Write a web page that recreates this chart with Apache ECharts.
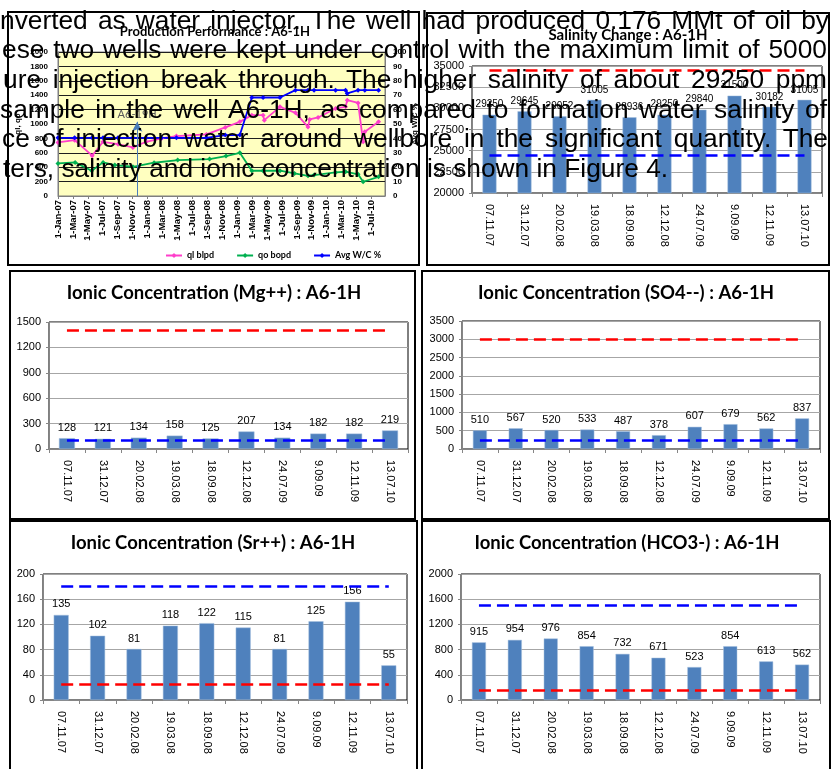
<!DOCTYPE html>
<html>
<head>
<meta charset="utf-8">
<script src="https://cdn.jsdelivr.net/npm/echarts@6/dist/echarts.min.js"></script>
<style>
html, body { margin: 0; padding: 0; background: #fff; }
#wrap { position: relative; width: 836px; height: 769px; overflow: hidden; }
#chart { position: absolute; left: 0; top: 0; width: 836px; height: 769px; }
.txt { position: absolute; font-family: 'Liberation Sans', Arial, sans-serif; font-size: 26.3px; line-height: 26px; color: #000; white-space: nowrap; transform-origin: 0 0; }
</style>
</head>
<body>
<div id="wrap">
  <div id="chart"></div>
  <div id="overlay"></div>
</div>
<script>
// ---- production data ----
const qlDates = ['2007-01-01','2007-03-08','2007-05-19','2007-07-02','2007-09-02','2007-11-02','2007-12-26','2008-02-26','2008-04-27','2008-08-28','2008-11-13','2009-01-12','2009-02-28','2009-04-15','2009-04-20','2009-06-23','2009-08-26','2009-10-16','2009-10-23','2009-11-26','2010-02-06','2010-03-17','2010-03-24','2010-05-07','2010-05-28','2010-06-04','2010-07-30'];
const qlValues = [744,776,560,753,720,675,753,800,832,855,952,1030,1123,1123,1053,1238,1155,960,1063,1091,1216,1238,1331,1293,753,891,1030];
const qoDates = ['2007-01-01','2007-03-10','2007-05-17','2007-07-02','2007-08-20','2007-11-02','2008-01-28','2008-05-02','2008-09-10','2008-11-16','2009-01-12','2009-02-28','2009-04-15','2009-06-23','2009-08-22','2009-10-16','2009-11-10','2010-02-06','2010-03-17','2010-05-07','2010-05-28','2010-07-30'];
const qoValues = [453,467,351,467,430,406,462,499,513,554,600,351,351,351,314,281,291,328,337,301,198,267];
const wcDates = ['2007-01-01','2007-03-08','2007-05-19','2007-07-02','2007-09-02','2007-11-02','2007-12-26','2008-02-26','2008-04-27','2008-08-28','2008-11-13','2009-01-12','2009-02-28','2009-04-15','2009-06-23','2009-08-26','2009-10-16','2009-11-10','2010-02-06','2010-03-17','2010-03-24','2010-05-07','2010-06-04','2010-07-30'];
const wcValues = [40.4,40.4,40.4,40.4,40.4,40.4,40.4,40.4,40.4,40.4,42.3,42.3,68.4,68.4,68.4,73.5,73.5,73.5,73.5,73.5,71.2,73.5,73.5,73.5];
const injectorDate = '2007-11-19';
const injectorTop = 1030;

// ---- sample data ----
const sampleDates = ['07.11.07','31.12.07','20.02.08','19.03.08','18.09.08','12.12.08','24.07.09','9.09.09','12.11.09','13.07.10'];
const salinity = [29250,29645,29052,31005,28936,29250,29840,31500,30182,31005];
const mgValues = [128,121,134,158,125,207,134,182,182,219];
const so4Values = [510,567,520,533,487,378,607,679,562,837];
const srValues = [135,102,81,118,122,115,81,125,156,55];
const hco3Values = [915,954,976,854,732,671,523,854,613,562];
// [red limit, blue limit]
const salinityLimits = [34500, 24500];
const mgLimits = [1400, 100];
const so4Limits = [3000, 250];
const srLimits = [25, 180];
const hco3Limits = [160, 1500];

const MONTHS = ['Jan','Feb','Mar','Apr','May','Jun','Jul','Aug','Sep','Oct','Nov','Dec'];
const FONT = "'Liberation Sans', Arial, sans-serif";
const TFONT = "Lato, 'Liberation Sans', sans-serif";
const BAR = '#4F81BD';
const plain = v => String(v);

function monthPos(s) {
  const [y, m, d] = s.split('-').map(Number);
  const days = new Date(y, m, 0).getDate();
  return (y - 2007) * 12 + (m - 1) + (d - 1) / days;
}
function pairs(dates, vals) {
  return dates.map((d, i) => [monthPos(d), vals[i]]);
}

const option = {
  animation: false,
  backgroundColor: '#fff',
  title: [],
  grid: [],
  xAxis: [],
  yAxis: [],
  series: [],
  legend: {
    data: ['ql blpd', 'qo bopd', 'Avg W/C %'],
    left: 160, top: 246,
    itemWidth: 16, itemHeight: 6, itemGap: 22,
    textStyle: { fontSize: 9, fontWeight: 'bold', fontFamily: TFONT, color: '#000' }
  },
  graphic: []
};

function addTitle(text, cx, cy, size) {
  option.title.push({
    text, left: cx, top: cy - size / 2, textAlign: 'center', padding: 0,
    textStyle: { fontFamily: TFONT, fontWeight: 'bold', fontSize: size, color: '#000' }
  });
}

// ---- production performance ----
option.grid.push({ left: 58, top: 52, width: 327, height: 144, show: true,
  backgroundColor: '#FFFFC0', borderColor: '#7F7F7F', borderWidth: 1, outerBoundsMode: 'none' });
option.xAxis.push({
  type: 'value', gridIndex: 0, min: 0, max: 43.8, interval: 2,
  axisLine: { show: true, onZero: false, lineStyle: { color: '#7F7F7F' } },
  axisTick: { show: true, length: 3, lineStyle: { color: '#7F7F7F' } },
  splitLine: { show: false },
  axisLabel: {
    rotate: 90, margin: 4, fontSize: 9.5, fontWeight: 'bold', color: '#000', fontFamily: FONT,
    showMaxLabel: false,
    formatter: v => '1-' + MONTHS[Math.round(v) % 12] + '-' + String(7 + Math.floor(Math.round(v) / 12)).padStart(2, '0')
  }
});
option.yAxis.push({
  type: 'value', gridIndex: 0, min: 0, max: 2000, interval: 200,
  name: 'ql, qo', nameLocation: 'middle', nameGap: 36,
  nameTextStyle: { fontSize: 8, fontWeight: 'bold', color: '#000', fontFamily: FONT },
  axisLine: { show: true, lineStyle: { color: '#7F7F7F' } },
  axisTick: { show: false },
  splitLine: { lineStyle: { color: '#1E1E1E', width: 1 } },
  axisLabel: { fontSize: 8, fontWeight: 'bold', color: '#000', margin: 10, fontFamily: FONT, formatter: plain }
});
option.yAxis.push({
  type: 'value', gridIndex: 0, position: 'right', min: 0, max: 100, interval: 10,
  name: 'Avg W/C %', nameLocation: 'middle', nameGap: 26, nameRotate: 90,
  nameTextStyle: { fontSize: 8, fontWeight: 'bold', color: '#000', fontFamily: FONT },
  axisLine: { show: true, lineStyle: { color: '#7F7F7F' } },
  axisTick: { show: false },
  splitLine: { show: false },
  axisLabel: { fontSize: 8, fontWeight: 'bold', color: '#000', margin: 8, fontFamily: FONT, formatter: plain }
});
const lineStyleOf = c => ({
  type: 'line', xAxisIndex: 0, symbol: 'diamond', symbolSize: 5,
  itemStyle: { color: c }, lineStyle: { color: c, width: 1.8 }
});
option.series.push(Object.assign(lineStyleOf('#FF3ECB'), {
  name: 'ql blpd', yAxisIndex: 0, data: pairs(qlDates, qlValues),
  markLine: {
    silent: true, symbol: ['none', 'arrow'], symbolSize: [8, 10],
    lineStyle: { color: '#4A7EBB', width: 1, type: 'solid' },
    label: { show: true, position: 'end', formatter: 'A6-19H', color: '#595959', fontSize: 11, fontFamily: TFONT, distance: 2 },
    data: [[{ coord: [monthPos(injectorDate), 0] }, { coord: [monthPos(injectorDate), injectorTop] }]]
  }
}));
option.series.push(Object.assign(lineStyleOf('#00B050'), {
  name: 'qo bopd', yAxisIndex: 0, data: pairs(qoDates, qoValues)
}));
option.series.push(Object.assign(lineStyleOf('#0000FF'), {
  name: 'Avg W/C %', yAxisIndex: 1, data: pairs(wcDates, wcValues)
}));
addTitle('Production Performance : A6-1H', 215, 32, 13);

// ---- bar panels ----
function barPanel(box, values, yMin, yMax, yStep, limits, title, tcx, tcy, tsize, labelSize, barW) {
  const gi = option.grid.length;
  option.grid.push({ left: box[0], top: box[1], width: box[2], height: box[3], show: true,
    backgroundColor: '#fff', borderColor: '#000', borderWidth: 1, outerBoundsMode: 'none' });
  option.xAxis.push({
    type: 'category', gridIndex: gi, data: sampleDates,
    axisLine: { show: true, lineStyle: { color: '#868686' } },
    axisTick: { show: true, length: 4, lineStyle: { color: '#868686' } },
    axisLabel: { rotate: -90, margin: 11, fontSize: 11, color: '#000', fontFamily: FONT }
  });
  const yi = option.yAxis.length;
  option.yAxis.push({
    type: 'value', gridIndex: gi, min: yMin, max: yMax, interval: yStep,
    axisLine: { show: true, lineStyle: { color: '#868686' } },
    axisTick: { show: true, length: 3, lineStyle: { color: '#868686' } },
    splitLine: { lineStyle: { color: '#A6A6A6', width: 1 } },
    axisLabel: { fontSize: 11, color: '#000', margin: 8, fontFamily: FONT, formatter: plain }
  });
  const first = sampleDates[0], last = sampleDates[sampleDates.length - 1];
  option.series.push({
    type: 'bar', xAxisIndex: option.xAxis.length - 1, yAxisIndex: yi,
    data: values, barWidth: barW,
    itemStyle: { color: BAR, borderColor: '#A7C0DE', borderWidth: 0.5 },
    label: { show: true, position: 'top', distance: 5, fontSize: labelSize, color: '#000', fontFamily: FONT },
    markLine: {
      silent: true, symbol: ['none', 'none'], label: { show: false },
      data: [
        [{ xAxis: first, yAxis: limits[0], lineStyle: { color: '#FF0000', width: 2.6, type: [12, 6] } },
         { xAxis: last, yAxis: limits[0] }],
        [{ xAxis: first, yAxis: limits[1], lineStyle: { color: '#0000FF', width: 2.6, type: [12, 6] } },
         { xAxis: last, yAxis: limits[1] }]
      ]
    }
  });
  addTitle(title, tcx, tcy, tsize);
}

barPanel([472, 66, 350, 127], salinity, 20000, 35000, 2500, salinityLimits, 'Salinity Change : A6-1H', 628, 35, 15, 10, 14);
barPanel([49, 322, 359, 127], mgValues, 0, 1500, 300, mgLimits, 'Ionic Concentration (Mg++) : A6-1H', 214, 293, 18.5, 11, 16);
barPanel([462, 321, 358, 128], so4Values, 0, 3500, 500, so4Limits, 'Ionic Concentration (SO4--) : A6-1H', 626, 293, 18.5, 11, 14);
barPanel([43, 574, 364, 126], srValues, 0, 200, 40, srLimits, 'Ionic Concentration (Sr++) : A6-1H', 213, 543, 18.5, 11, 15);
barPanel([461, 574, 359, 126], hco3Values, 0, 2000, 400, hco3Limits, 'Ionic Concentration (HCO3-) : A6-1H', 627, 543, 18.5, 11, 14);

// panel frames
[[8, 12, 411, 253], [427, 13, 402, 252], [10, 271, 405, 248], [422, 271, 407, 248], [10, 521, 407, 252], [422, 521, 408, 252]]
  .forEach(r => option.graphic.push({
    type: 'rect', z: 100, shape: { x: r[0], y: r[1], width: r[2], height: r[3] },
    style: { fill: 'none', stroke: '#000', lineWidth: 2 }
  }));

const chart = echarts.init(document.getElementById('chart'));
chart.setOption(option);

// ---- page text lying over the figure ----
const textLines = [
  { t: 'nverted as water injector. The well had produced 0.176 MMt of oil by', x0: 0, x1: 829, base: 28 },
  { t: 'ese two wells were kept under control with the maximum limit of 5000', x0: 2, x1: 827, base: 57 },
  { t: 'ure injection break through. The higher salinity of about 29250 ppm', x0: 3, x1: 827, base: 87 },
  { t: 'sample in the well A6-1H, as compared to formation water salinity of', x0: 0, x1: 827, base: 117 },
  { t: 'ce of injection water around wellbore in the significant quantity. The', x0: 2, x1: 828, base: 146 },
  { t: 'ters, salinity and ionic concentration is shown in Figure 4.', x0: 3, x1: null, base: 176 }
];
const overlay = document.getElementById('overlay');
textLines.forEach(l => {
  const s = document.createElement('span');
  s.className = 'txt';
  s.textContent = l.t;
  s.style.left = l.x0 + 'px';
  s.style.top = (l.base - 21) + 'px';
  overlay.appendChild(s);
  if (l.x1 !== null) {
    const natural = s.getBoundingClientRect().width;
    const target = l.x1 - l.x0;
    const gaps = l.t.split(' ').length - 1;
    if (natural > target) {
      s.style.transform = 'scaleX(' + (target / natural) + ')';
    } else {
      s.style.wordSpacing = ((target - natural) / gaps) + 'px';
    }
  }
});
</script>
</body>
</html>
